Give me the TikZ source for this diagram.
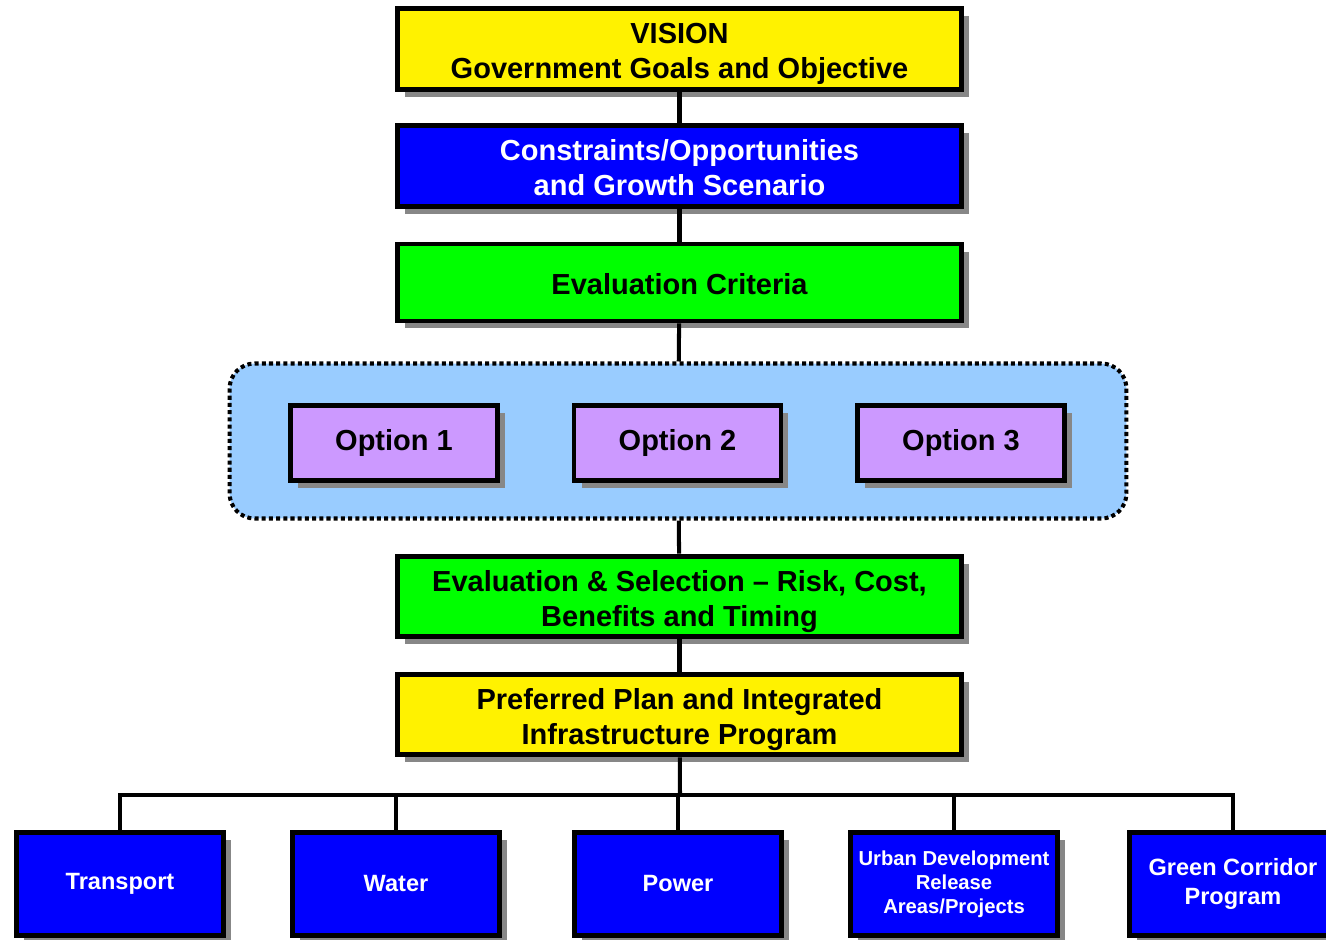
\documentclass[tikz,border=0pt]{standalone}
\usepackage{fontspec}
\setmainfont{Liberation Sans}
\usetikzlibrary{shadows}
\newcommand{\lift}{\rule{0pt}{20pt}}
\begin{document}
\begin{tikzpicture}[x=0.02cm,y=-0.02cm,
  box/.style={draw=black,line width=2.8pt,inner sep=0pt,align=center,
    font=\fontsize{16.5}{20}\selectfont\bfseries,
    drop shadow={shadow xshift=0.15cm,shadow yshift=-0.15cm,fill=shadowgray,opacity=1}},
  wide/.style={box,minimum width=11.28cm,minimum height=1.54cm},
  opt/.style={box,fill=optfill,minimum width=4.14cm,minimum height=1.5cm},
  leaf/.style={box,fill=blue,text=white,minimum width=4.14cm,minimum height=2.06cm,
    font=\fontsize{13.4}{16}\selectfont\bfseries},
  conn/.style={line width=2.3pt}]
  \definecolor{shadowgray}{HTML}{878787}
  \definecolor{optfill}{HTML}{CC99FF}
  \definecolor{panel}{HTML}{99CCFF}
  \useasboundingbox (0,0) rectangle (1326,940);
  \node [wide,fill=yellow] (vision) at (679.5,49) {\lift VISION\\Government Goals and Objective\strut};
  \node [wide,fill=blue,text=white] (constr) at (679.5,166) {\lift Constraints/Opportunities\\and Growth Scenario\strut};
  \node [wide,fill=green] (crit) at (679.5,282.5) {\lift Evaluation Criteria\strut};
  \node [draw=black,fill=panel,line width=2.3pt,dash pattern=on 2.3pt off 1.8pt,
    rounded corners=0.5cm,minimum width=17.94cm,minimum height=3.1cm] (options) at (678,441) {};
  \node [opt] (opt1) at (394,443) {Option 1};
  \node [opt] (opt2) at (677.5,443) {Option 2};
  \node [opt] (opt3) at (961,443) {Option 3};
  \node [wide,fill=green] (select) at (679.5,596.5) {\lift Evaluation \& Selection -- Risk, Cost,\\Benefits and Timing\strut};
  \node [wide,fill=yellow] (plan) at (679.5,714.5) {\lift Preferred Plan and Integrated\\Infrastructure Program\strut};
  \node [leaf] (transport) at (120,884) {Transport};
  \node [leaf] (water) at (396,884) {Water};
  \node [leaf] (power) at (678,884) {Power};
  \node [leaf,font=\fontsize{11.5}{13.7}\selectfont\bfseries] (urban) at (954,884) {Urban Development\\Release\\Areas/Projects};
  \node [leaf] (green) at (1233,884) {Green Corridor\\Program};
  \coordinate (bus) at (680,795);
  \draw [conn] (vision) -- (constr);
  \draw [conn] (constr) -- (crit);
  \draw [conn] (crit) -- (options);
  \draw [conn] (options) -- (select);
  \draw [conn] (select) -- (plan);
  \draw [conn] (plan) -- (bus);
  \foreach \n in {transport,water,power,urban,green}
    \draw [conn] (bus) -| (\n.north);
\end{tikzpicture}
\end{document}
